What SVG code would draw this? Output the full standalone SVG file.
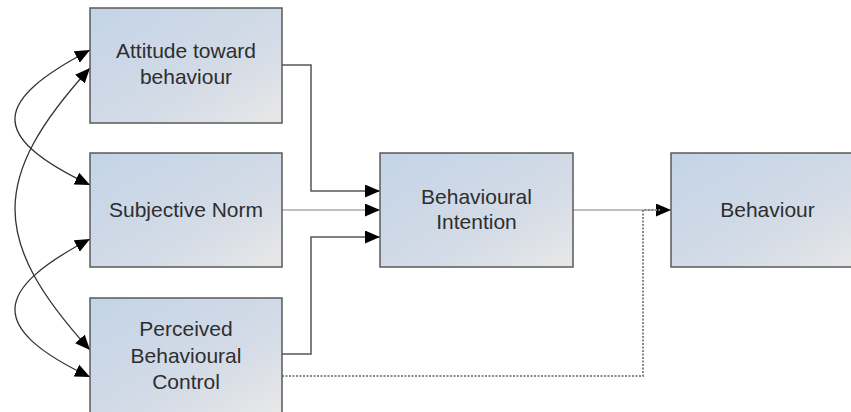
<svg xmlns="http://www.w3.org/2000/svg" width="851" height="412" viewBox="0 0 851 412">
<defs>
<linearGradient id="fillGrad" x1="0" y1="0" x2="1" y2="1">
<stop offset="0" stop-color="#c3d4e8"/>
<stop offset="0.6" stop-color="#d3dbe6"/>
<stop offset="1" stop-color="#e8e8e8"/>
</linearGradient>
<marker id="arrow" viewBox="0 0 15 13" refX="15" refY="6.5" markerWidth="15" markerHeight="13" markerUnits="userSpaceOnUse" orient="auto-start-reverse">
<path d="M0,0 L15,6.5 L0,13 Z" fill="#000"/>
</marker>
</defs>
<style>
.box { fill: url(#fillGrad); stroke: #5a5a5a; stroke-width: 1.5; }
.lbl { font-family: "Liberation Sans", Arial, sans-serif; font-size: 21px; fill: #2e2e2e; text-anchor: middle; }
.curve { fill: none; stroke: #333; stroke-width: 1.3; }
.dark { fill: none; stroke: #555; stroke-width: 1.5; }
.light { fill: none; stroke: #aaa; stroke-width: 1.5; }
.dotted { fill: none; stroke: #888; stroke-width: 2; stroke-dasharray: 2 1.5; }
</style>
<g id="connectors">
<path class="curve" d="M90,50 C-5,100 -15,135 90,185" marker-start="url(#arrow)" marker-end="url(#arrow)"/>
<path class="curve" d="M90,68 C-10,178 -10,240 90,350" marker-start="url(#arrow)" marker-end="url(#arrow)"/>
<path class="curve" d="M90,239 C-5,289 -15,327 90,377" marker-start="url(#arrow)" marker-end="url(#arrow)"/>
<path class="dark" d="M282,65 H311 V191 H380" marker-end="url(#arrow)"/>
<path class="light" d="M282,210 H380" marker-end="url(#arrow)"/>
<path class="dark" d="M282,354 H311 V237 H380" marker-end="url(#arrow)"/>
<path class="light" d="M573,210 H671" stroke="#999" marker-end="url(#arrow)"/>
<path class="dotted" d="M282,376 H643 V210 H660"/>
</g>
<g id="attitude">
<rect class="box" x="90" y="8" width="192" height="115"/>
<text class="lbl" x="186" y="57.5">Attitude toward</text>
<text class="lbl" x="186" y="84">behaviour</text>
</g>
<g id="subjective-norm">
<rect class="box" x="90" y="153" width="192" height="114"/>
<text class="lbl" x="186" y="217">Subjective Norm</text>
</g>
<g id="pbc">
<rect class="box" x="90" y="298" width="192" height="115"/>
<text class="lbl" x="186" y="336">Perceived</text>
<text class="lbl" x="186" y="362.5">Behavioural</text>
<text class="lbl" x="186" y="389">Control</text>
</g>
<g id="intention">
<rect class="box" x="380" y="153" width="193" height="114"/>
<text class="lbl" x="476.5" y="204">Behavioural</text>
<text class="lbl" x="476.5" y="229">Intention</text>
</g>
<g id="behaviour">
<rect class="box" x="671" y="153" width="193" height="114"/>
<text class="lbl" x="767.5" y="217">Behaviour</text>
</g>
</svg>
